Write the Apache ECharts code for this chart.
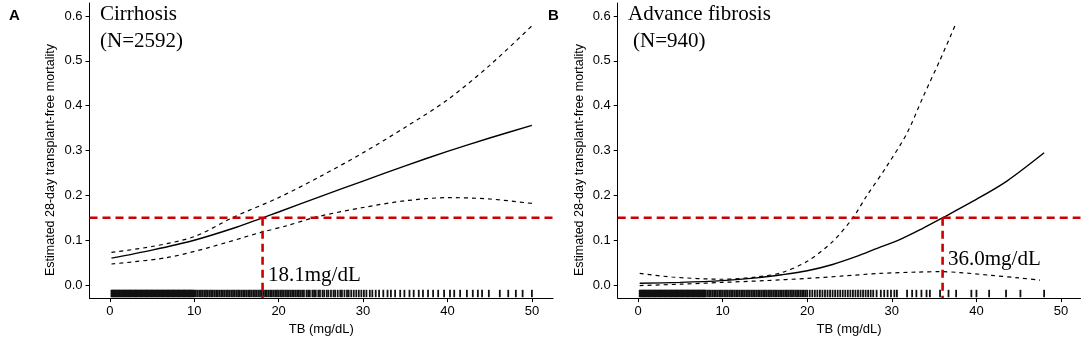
<!DOCTYPE html>
<html>
<head>
<meta charset="utf-8">
<script src="https://cdn.jsdelivr.net/npm/echarts@6/dist/echarts.min.js"></script>
<style>
  html, body { margin: 0; padding: 0; background: #fff; }
  #chart { width: 1084px; height: 341px; }
</style>
</head>
<body>
<div id="chart"></div>
<script>
// tick labels
const xTicks = [0, 10, 20, 30, 40, 50];
const yTicks = [0, 0.1, 0.2, 0.3, 0.4, 0.5, 0.6];

// threshold and cut-offs
const cutoffY = 0.15;
const cutA = 18.1;
const cutB = 36.0;

// panel A: cirrhosis (N=2592)
const cirrFit = [[0.2, 0.060], [5, 0.078], [10, 0.100], [15, 0.129], [18.1, 0.150], [20, 0.163], [25, 0.198], [30, 0.232], [35, 0.266], [40, 0.298], [45, 0.328], [50, 0.356]];
const cirrUpper = [[0.2, 0.073], [5, 0.086], [10, 0.108], [14.6, 0.151], [20, 0.195], [25, 0.243], [30, 0.295], [35, 0.352], [40, 0.413], [45, 0.490], [50, 0.578]];
const cirrLower = [[0.2, 0.047], [6.7, 0.061], [11.8, 0.084], [17.8, 0.117], [20.9, 0.132], [24.5, 0.152], [30, 0.173], [35, 0.188], [40, 0.195], [45, 0.192], [50, 0.182]];
const cirrRug = [
  0.2,0.3,0.4,0.5,0.6,0.7,0.8,0.9,1.0,1.1,1.2,1.3,1.4,1.5,1.6,1.7,1.8,1.9,2.0,2.1,2.2,2.3,2.4,2.5,2.6,2.7,2.8,2.9,3.0,
  3.1,3.2,3.3,3.4,3.5,3.6,3.7,3.8,3.9,4.0,4.1,4.2,4.3,4.4,4.5,4.6,4.7,4.8,4.9,5.0,5.1,5.2,5.3,5.4,5.5,5.6,5.7,5.8,5.9,6.0,
  6.1,6.2,6.3,6.4,6.5,6.6,6.7,6.8,6.9,7.0,7.1,7.2,7.3,7.4,7.5,7.6,7.7,7.8,7.9,8.0,8.1,8.2,8.3,8.4,8.5,8.6,8.7,8.8,8.9,9.0,
  9.1,9.2,9.3,9.4,9.5,9.6,9.7,9.8,9.9,10.0,
  10.2,10.4,10.6,10.8,11.0,11.2,11.4,11.6,11.8,12.0,12.2,12.4,12.6,12.8,13.0,13.2,13.4,13.6,13.8,14.0,14.2,14.4,14.6,14.8,15.0,
  15.2,15.4,15.6,15.8,16.0,16.2,16.4,16.6,16.8,17.0,17.2,17.4,17.6,17.8,18.0,18.2,18.4,18.6,18.8,19.0,19.2,19.4,19.6,19.8,20.0,
  20.2,20.4,20.6,20.8,21.0,21.2,21.4,21.6,21.8,22.0,22.2,22.4,22.6,22.8,23.0,23.3,23.5,23.7,24.0,24.2,24.4,24.7,24.9,
  25.2,25.4,25.7,25.9,26.2,26.5,26.7,27.0,27.3,27.5,27.8,28.1,28.3,28.6,28.9,29.2,29.5,29.8,30.1,30.4,30.8,31.1,31.5,31.9,
  32.4,32.9,33.3,33.8,34.4,34.9,35.5,36.0,36.6,37.1,37.7,38.3,38.9,39.6,40.3,40.8,
  41.5,42.3,43.0,43.6,44.1,44.9,46.2,47.2,48.1,48.9,50.0
];

// panel B: advance fibrosis (N=940)
const fibFit = [[0.2, 0.004], [5, 0.006], [10, 0.010], [14, 0.016], [17, 0.023], [20, 0.032], [23, 0.046], [26, 0.065], [28, 0.080], [31, 0.102], [33.5, 0.125], [36, 0.150], [39.6, 0.187], [43.6, 0.232], [48, 0.295]];
const fibUpper = [[0.2, 0.026], [4, 0.018], [10, 0.013], [14, 0.018], [17, 0.028], [20, 0.053], [23, 0.097], [25.4, 0.150], [27, 0.198], [29.4, 0.265], [31.8, 0.339], [33.7, 0.420], [35.7, 0.502], [37.5, 0.580]];
const fibLower = [[0.2, -0.001], [5, 0.002], [10, 0.006], [15, 0.010], [20, 0.015], [24, 0.020], [28.6, 0.026], [33, 0.029], [35.7, 0.030], [38, 0.028], [41.6, 0.022], [45, 0.016], [47.5, 0.011]];
const fibRug = [
  0.2,0.3,0.4,0.5,0.6,0.7,0.8,0.9,1.0,1.1,1.2,1.3,1.4,1.5,1.6,1.7,1.8,1.9,2.0,2.1,2.2,2.3,2.4,2.5,2.6,2.7,2.8,2.9,3.0,
  3.1,3.2,3.3,3.4,3.5,3.6,3.7,3.8,3.9,4.0,4.1,4.2,4.3,4.4,4.5,4.6,4.7,4.8,4.9,5.0,5.1,5.2,5.3,5.4,5.5,5.6,5.7,5.8,5.9,6.0,
  6.1,6.2,6.3,6.4,6.5,6.6,6.7,6.8,6.9,7.0,7.1,7.2,7.3,7.4,7.5,7.6,7.7,7.8,7.9,8.0,
  8.2,8.4,8.6,8.8,9.0,9.2,9.4,9.6,9.8,10.0,10.2,10.4,10.6,10.8,11.0,11.2,11.4,11.6,11.8,12.0,12.2,12.4,12.6,12.8,13.0,
  13.2,13.4,13.6,13.8,14.0,14.2,14.4,14.6,14.8,15.0,15.2,15.4,15.6,15.8,16.0,16.2,16.4,16.6,16.8,17.0,17.2,17.4,17.6,17.8,18.0,
  18.2,18.4,18.6,18.8,19.0,19.2,19.4,19.6,19.8,20.0,
  20.3,20.6,20.9,21.2,21.5,21.8,22.1,22.4,22.7,23.0,23.3,23.6,23.9,24.2,24.5,24.8,25.1,25.4,25.7,26.0,26.3,26.6,26.9,27.2,
  27.5,27.8,
  28.2,28.7,29.1,29.5,29.9,30.3,30.6,
  31.8,32.4,32.9,33.5,34.1,34.5,35.7,36.7,37.6,39.4,40.0,41.5,43.5,45.2,48.0
];

const yMin = -0.029, yMax = 0.629;
const rugBottom = -0.027, rugTop = -0.0105;
const font = 'Liberation Sans, Arial, sans-serif';
const serif = 'Liberation Serif, Times New Roman, serif';

const chart = echarts.init(document.getElementById('chart'));

function xAxisFor(grid, min, max) {
  return {
    type: 'value', gridIndex: grid, min: min, max: max,
    name: 'TB (mg/dL)', nameLocation: 'middle', nameGap: 24,
    nameTextStyle: { color: '#000', fontSize: 13, fontFamily: font },
    axisLine: { show: true, onZero: false, lineStyle: { color: '#000', width: 1 } },
    axisTick: { show: true, length: 4, customValues: xTicks, lineStyle: { color: '#000' } },
    axisLabel: { customValues: xTicks, color: '#000', fontSize: 13, fontFamily: font, margin: 7 },
    splitLine: { show: false }
  };
}

function yAxisFor(grid) {
  return {
    type: 'value', gridIndex: grid, min: yMin, max: yMax,
    axisLine: { show: true, onZero: false, lineStyle: { color: '#000', width: 1 } },
    axisTick: { show: true, length: 4, customValues: yTicks, lineStyle: { color: '#000' } },
    axisLabel: { customValues: yTicks, color: '#000', fontSize: 13, fontFamily: font, margin: 7,
      formatter: v => v.toFixed(1) },
    splitLine: { show: false }
  };
}

// rug marks drawn as thin rects so dense runs blend to solid black
function rugSeries(idx, values) {
  return {
    type: 'custom', xAxisIndex: idx, yAxisIndex: idx, silent: true,
    data: values.map(v => [v]),
    renderItem: (params, api) => {
      const x = api.value(0);
      const p1 = api.coord([x, rugBottom]);
      const p2 = api.coord([x, rugTop]);
      return { type: 'rect', shape: { x: p1[0] - 0.9, y: p2[1], width: 1.8, height: p1[1] - p2[1] },
        style: { fill: '#111' } };
    }
  };
}

function curve(idx, data, dashed) {
  return {
    type: 'line', xAxisIndex: idx, yAxisIndex: idx, data: data, symbol: 'none',
    smooth: 0.3, silent: true,
    lineStyle: { color: '#000', width: dashed ? 1.2 : 1.4, type: dashed ? [4, 4] : 'solid' }
  };
}

function redLine(idx, data) {
  return {
    type: 'line', xAxisIndex: idx, yAxisIndex: idx, data: data, symbol: 'none', silent: true,
    lineStyle: { color: '#cc0000', width: 2.6, type: [8, 5] }
  };
}

const axA = [-2.4, 52.5], axB = [-2.4, 52.3];

chart.setOption({
  animation: false,
  backgroundColor: '#fff',
  grid: [
    { left: 89.5, top: 3, width: 463.5, height: 296 },
    { left: 617.7, top: 3, width: 462.8, height: 296 }
  ],
  xAxis: [xAxisFor(0, axA[0], axA[1]), xAxisFor(1, axB[0], axB[1])],
  yAxis: [yAxisFor(0), yAxisFor(1)],
  series: [
    rugSeries(0, cirrRug),
    curve(0, cirrUpper, true),
    curve(0, cirrLower, true),
    curve(0, cirrFit, false),
    redLine(0, [[axA[0], cutoffY], [axA[1], cutoffY]]),
    redLine(0, [[cutA, cutoffY], [cutA, yMin]]),
    rugSeries(1, fibRug),
    curve(1, fibUpper, true),
    curve(1, fibLower, true),
    curve(1, fibFit, false),
    redLine(1, [[axB[0], cutoffY], [axB[1], cutoffY]]),
    redLine(1, [[cutB, cutoffY], [cutB, yMin]])
  ],
  graphic: [
    { type: 'text', left: 9, top: 8, style: { text: 'A', fill: '#000', font: 'bold 15px ' + font } },
    { type: 'text', left: 548, top: 8, style: { text: 'B', fill: '#000', font: 'bold 15px ' + font } },
    { type: 'text', x: 51, y: 160, rotation: Math.PI / 2,
      style: { text: 'Estimated 28-day transplant-free mortality', fill: '#000', font: '12.5px ' + font,
        align: 'center', verticalAlign: 'middle' } },
    { type: 'text', x: 580, y: 160, rotation: Math.PI / 2,
      style: { text: 'Estimated 28-day transplant-free mortality', fill: '#000', font: '12.5px ' + font,
        align: 'center', verticalAlign: 'middle' } },
    { type: 'text', left: 100, top: 4, style: { text: 'Cirrhosis', fill: '#000', font: '21px ' + serif } },
    { type: 'text', left: 100, top: 31, style: { text: '(N=2592)', fill: '#000', font: '21px ' + serif } },
    { type: 'text', left: 268, top: 265, style: { text: '18.1mg/dL', fill: '#000', font: '21px ' + serif } },
    { type: 'text', left: 628, top: 4, style: { text: 'Advance fibrosis', fill: '#000', font: '21px ' + serif } },
    { type: 'text', left: 633, top: 31, style: { text: '(N=940)', fill: '#000', font: '21px ' + serif } },
    { type: 'text', left: 948, top: 249, style: { text: '36.0mg/dL', fill: '#000', font: '21px ' + serif } }
  ]
});
</script>
</body>
</html>
